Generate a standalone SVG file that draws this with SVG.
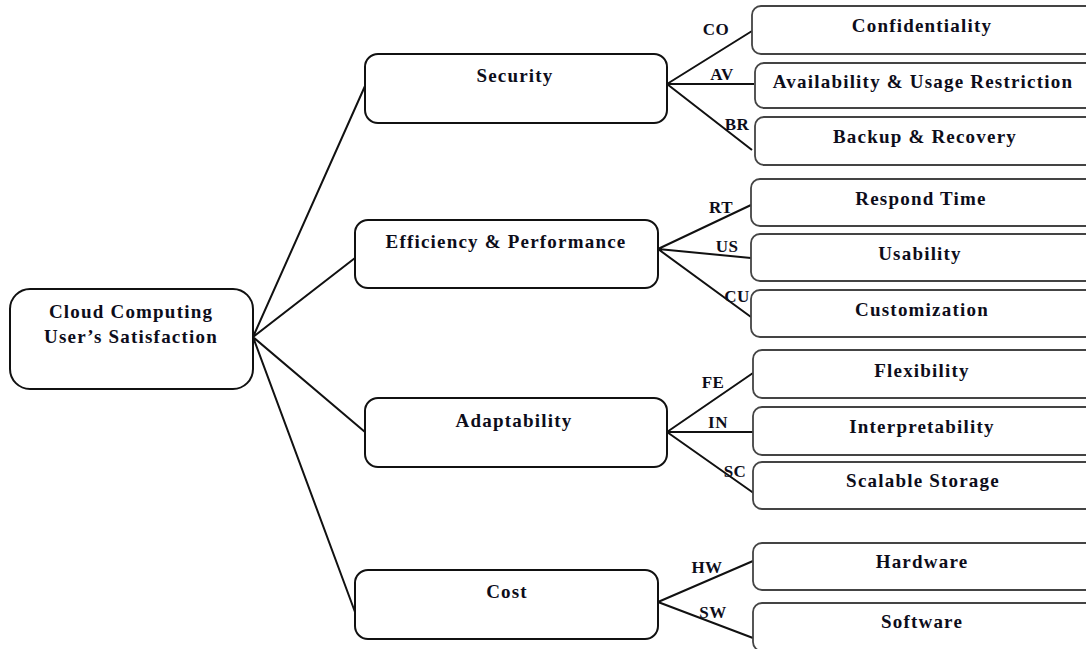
<svg xmlns="http://www.w3.org/2000/svg" width="1086" height="649" viewBox="0 0 1086 649">
<style>
.main{fill:#fff;stroke:#111;stroke-width:2}
.leaf{fill:#fff;stroke:#444;stroke-width:1.8}
.t{font-family:"Liberation Serif","Times New Roman",serif;font-weight:bold;font-size:19px;letter-spacing:1.2px;fill:#0d0d1a;text-anchor:middle}
.e{font-family:"Liberation Serif","Times New Roman",serif;font-weight:bold;font-size:17px;letter-spacing:0.5px;fill:#0d0d1a;text-anchor:middle}
.c{stroke:#111;stroke-width:2;fill:none}
</style>
<rect width="1086" height="649" fill="#fff"/>
<g id="connectors">
<path class="c" d="M253 337 L365 86 M253 337 L355 258 M253 337 L365 432 M253 337 L355 612"/>
<path class="c" d="M667 84 L752 31 M667 84 L754 84 M667 84 L752 150"/>
<path class="c" d="M658 249 L751 205 M658 249 L751 258 M658 249 L751 317"/>
<path class="c" d="M667 432 L753 373 M667 432 L753 432 M667 432 L755 494"/>
<path class="c" d="M658 602 L753 561 M658 602 L753 638"/>
<text class="e" x="716" y="35">CO</text>
<text class="e" x="722" y="80">AV</text>
<text class="e" x="737" y="130">BR</text>
<text class="e" x="721" y="213">RT</text>
<text class="e" x="727" y="252">US</text>
<text class="e" x="737" y="302">CU</text>
<text class="e" x="713" y="388">FE</text>
<text class="e" x="718" y="428">IN</text>
<text class="e" x="735" y="477">SC</text>
<text class="e" x="707" y="573">HW</text>
<text class="e" x="713" y="618">SW</text>
</g>
<g id="root">
<rect class="main" x="10" y="289" width="243" height="100" rx="20"/>
<text class="t" x="131" y="318">Cloud Computing</text>
<text class="t" x="131" y="343">User’s Satisfaction</text>
</g>
<g id="security">
<rect class="main" x="365" y="54" width="302" height="69" rx="13"/>
<text class="t" x="515" y="82">Security</text>
</g>
<g id="efficiency">
<rect class="main" x="355" y="220" width="303" height="68" rx="13"/>
<text class="t" x="506" y="248">Efficiency &amp; Performance</text>
</g>
<g id="adaptability">
<rect class="main" x="365" y="398" width="302" height="69" rx="13"/>
<text class="t" x="514" y="427">Adaptability</text>
</g>
<g id="cost">
<rect class="main" x="355" y="570" width="303" height="69" rx="13"/>
<text class="t" x="507" y="598">Cost</text>
</g>
<g id="confidentiality">
<rect class="leaf" x="752" y="6" width="345" height="48" rx="9"/>
<text class="t" x="922" y="32">Confidentiality</text>
</g>
<g id="availability">
<rect class="leaf" x="755" y="63" width="342" height="45" rx="9"/>
<text class="t" x="923" y="88">Availability &amp; Usage Restriction</text>
</g>
<g id="backup">
<rect class="leaf" x="755" y="117" width="342" height="48" rx="9"/>
<text class="t" x="925" y="143">Backup &amp; Recovery</text>
</g>
<g id="respond">
<rect class="leaf" x="751" y="179" width="346" height="47" rx="9"/>
<text class="t" x="921" y="205">Respond Time</text>
</g>
<g id="usability">
<rect class="leaf" x="751" y="234" width="346" height="47" rx="9"/>
<text class="t" x="920" y="260">Usability</text>
</g>
<g id="customization">
<rect class="leaf" x="751" y="290" width="346" height="47" rx="9"/>
<text class="t" x="922" y="316">Customization</text>
</g>
<g id="flexibility">
<rect class="leaf" x="753" y="350" width="344" height="48" rx="9"/>
<text class="t" x="922" y="377">Flexibility</text>
</g>
<g id="interpretability">
<rect class="leaf" x="753" y="407" width="344" height="48" rx="9"/>
<text class="t" x="922" y="433">Interpretability</text>
</g>
<g id="scalable">
<rect class="leaf" x="753" y="462" width="344" height="47" rx="9"/>
<text class="t" x="923" y="487">Scalable Storage</text>
</g>
<g id="hardware">
<rect class="leaf" x="753" y="543" width="344" height="47" rx="9"/>
<text class="t" x="922" y="568">Hardware</text>
</g>
<g id="software">
<rect class="leaf" x="753" y="603" width="344" height="48" rx="9"/>
<text class="t" x="922" y="628">Software</text>
</g>
</svg>
